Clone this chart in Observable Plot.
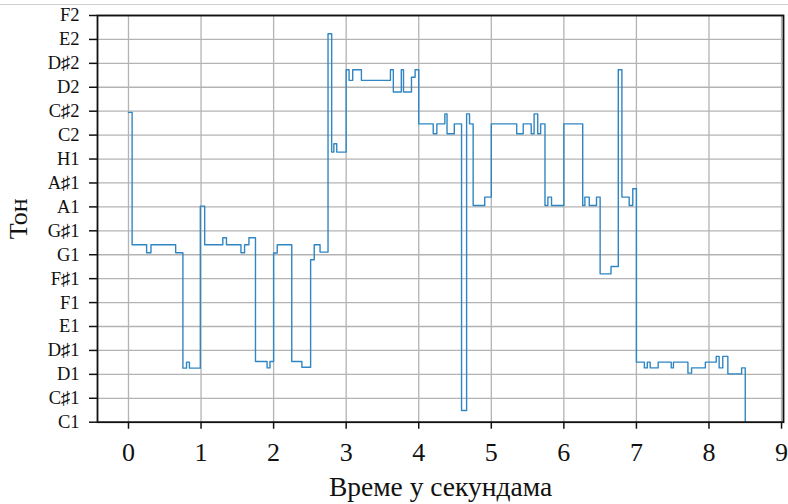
<!DOCTYPE html>
<html>
<head>
<meta charset="utf-8">
<script src="https://cdn.jsdelivr.net/npm/d3@7"></script>
<script src="https://cdn.jsdelivr.net/npm/@observablehq/plot@0.6"></script>
<style>
  html, body { margin: 0; padding: 0; background: #fff; }
  #wrap { position: relative; width: 788px; height: 504px; overflow: hidden; }
  #topline { position: absolute; left: 0; top: 4px; width: 788px; height: 1px; background: #cfcfcf; }
  svg { display: block; }
</style>
</head>
<body>
<div id="wrap"><div id="topline"></div></div>
<script>
// Note names for the y ticks (semitones above C1)
const noteLabels = ["C1","C♯1","D1","D♯1","E1","F1","F♯1","G1","G♯1","A1","A♯1","H1","C2","C♯2","D2","D♯2","E2","F2"];
// x tick values (seconds)
const timeTicks = [0,1,2,3,4,5,6,7,8,9];

// Step starts (seconds) and pitch (semitones above C1)
const times = [0.00,0.05,0.25,0.31,0.65,0.75,0.80,0.84,0.99,1.05,1.30,1.35,1.55,1.60,1.66,1.75,1.91,1.95,
  2.00,2.05,2.25,2.39,2.51,2.56,2.64,2.75,2.80,2.83,2.87,3.00,3.04,3.09,3.21,3.61,3.65,3.76,3.79,3.90,3.95,
  4.00,4.20,4.25,4.36,4.39,4.49,4.59,4.66,4.70,4.75,4.91,5.00,5.35,5.44,5.55,5.59,5.64,5.68,5.74,5.78,5.83,
  6.00,6.26,6.29,6.35,6.45,6.50,6.65,6.75,6.80,6.90,6.95,7.00,7.11,7.15,7.19,7.30,7.48,7.51,7.71,7.76,7.95,
  8.10,8.14,8.19,8.26,8.45,8.50];
const tones = [12.95,7.42,7.08,7.42,7.08,2.26,2.51,2.26,9.03,7.42,7.71,7.42,7.08,7.42,7.71,2.54,2.27,2.54,
  7.07,7.42,2.54,2.30,6.79,7.42,7.11,16.24,11.29,11.64,11.29,14.73,14.29,14.73,14.29,14.73,13.80,14.73,13.80,14.42,14.73,
  12.47,12.06,12.47,12.89,12.06,12.47,0.49,12.89,12.47,9.06,9.41,12.47,12.06,12.47,12.06,12.89,12.06,12.47,9.06,9.41,9.06,
  12.47,9.06,9.41,9.06,9.41,6.20,6.51,14.73,9.41,9.06,9.76,2.51,2.27,2.51,2.27,2.51,2.27,2.51,2.05,2.27,2.51,
  2.75,2.27,2.75,2.02,2.27,-1];

const data = times.map((t, i) => ({t, s: tones[i]}));
const noteIdx = d3.range(noteLabels.length);

const plot = Plot.plot({
  width: 788,
  height: 504,
  marginLeft: 97,
  marginRight: 5,
  marginTop: 15,
  marginBottom: 82.3,
  style: {fontFamily: "'Liberation Serif', 'Times New Roman', serif", background: "#fff", color: "#111", overflow: "visible"},
  x: {domain: [-0.427, 9.027]},
  y: {domain: [0, 17]},
  marks: [
    Plot.gridX(timeTicks, {stroke: "#b3b3b3", strokeOpacity: 1, strokeWidth: 1.3}),
    Plot.gridY(noteIdx, {stroke: "#b3b3b3", strokeOpacity: 1, strokeWidth: 1.3}),
    Plot.line(data, {x: "t", y: "s", curve: "step-after", stroke: "#2f86c3", strokeWidth: 1.4, clip: true}),
    Plot.frame({stroke: "#111", strokeWidth: 1.8}),
    Plot.axisX(timeTicks, {tickSize: 7, tickPadding: 13, fontSize: 26, strokeWidth: 1.5, label: null, tickFormat: d => String(d)}),
    Plot.axisY(noteIdx, {tickSize: 8, tickPadding: 10, fontSize: 18.5, strokeWidth: 1.5, label: null, tickFormat: i => noteLabels[i]}),
    Plot.text(["Тон"], {text: d => d, frameAnchor: "left", dx: -78.5, rotate: -90, fontSize: 26, textAnchor: "middle", lineAnchor: "middle", fill: "#111"}),
    Plot.text(["Време у секундама"], {text: d => d, frameAnchor: "bottom", dy: 64.5, fontSize: 27.5, textAnchor: "middle", lineAnchor: "middle", fill: "#111"})
  ]
});
document.getElementById("wrap").appendChild(plot);
</script>
</body>
</html>
